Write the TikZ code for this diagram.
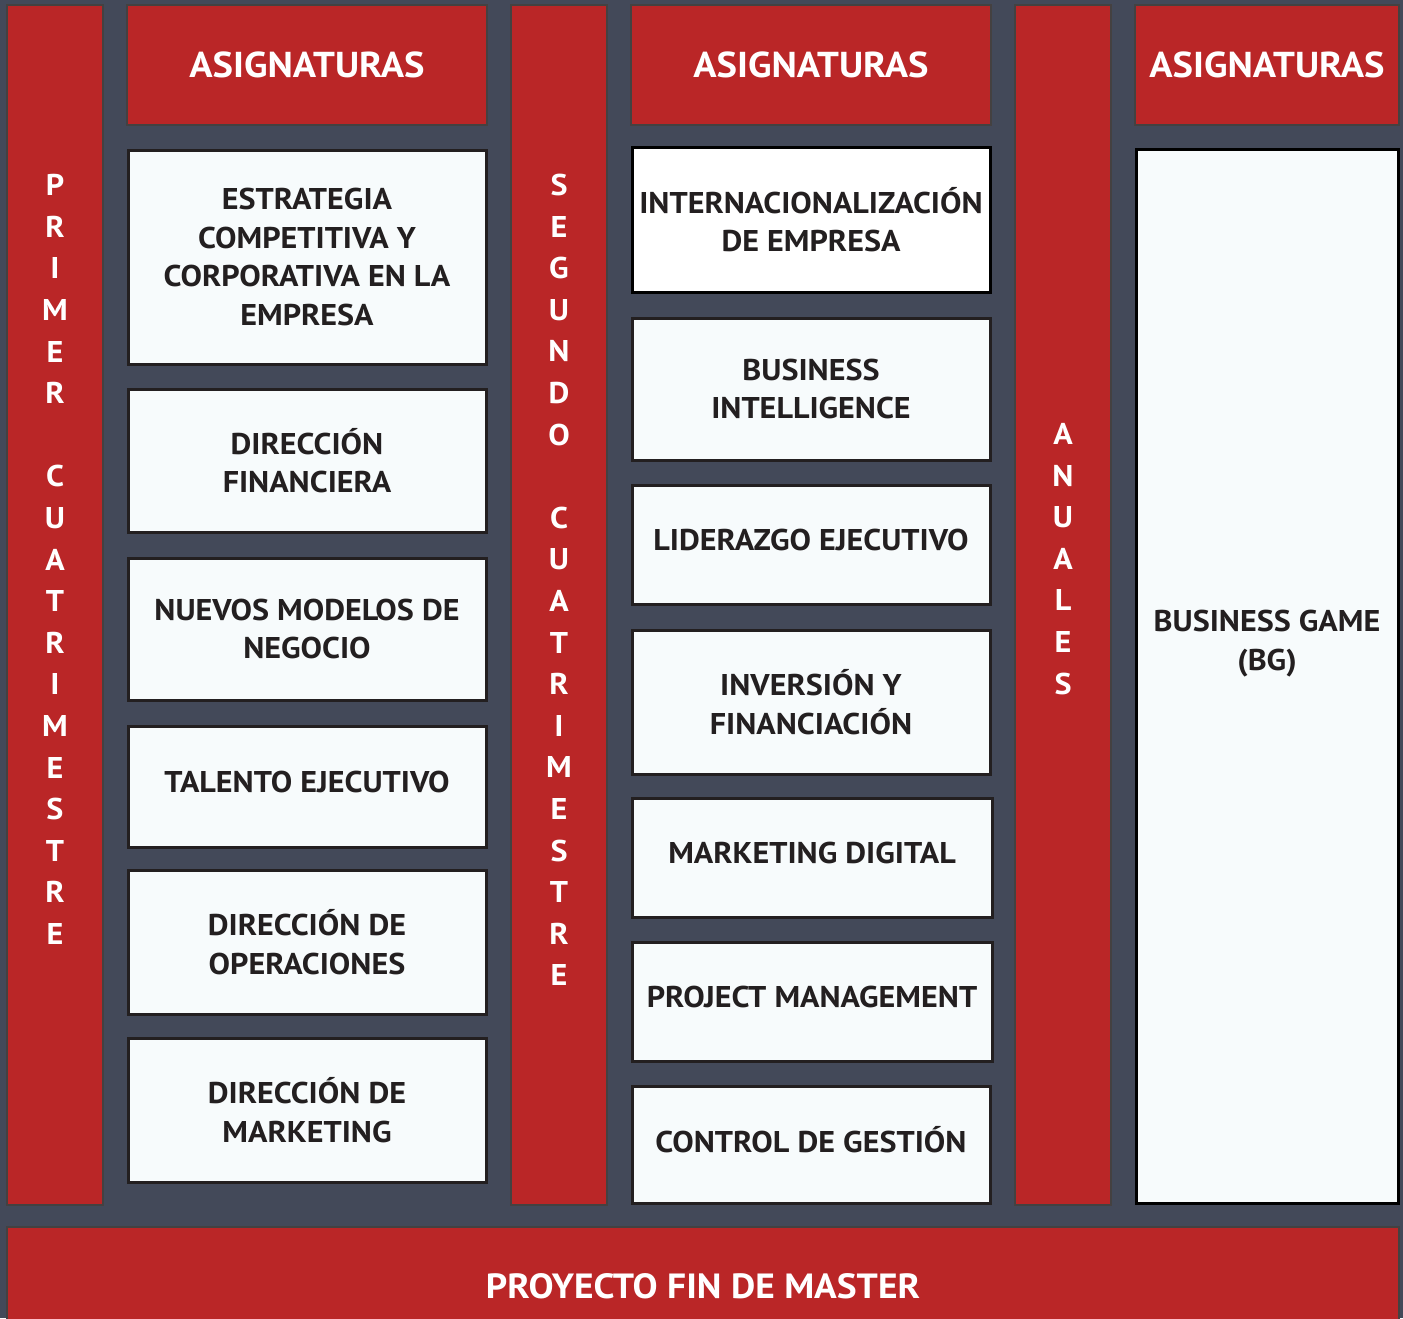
\documentclass[tikz,border=0pt]{standalone}
\usepackage{fontspec}
\setmainfont[FakeStretch=1.07]{PT Sans}
\usepackage{tikz}
\usetikzlibrary{positioning}
\definecolor{slate}{HTML}{434959}
\definecolor{mred}{HTML}{BA2627}
\definecolor{paper}{HTML}{F7FBFC}
\definecolor{ink}{HTML}{231F20}

\begin{document}
\begin{tikzpicture}
[x=0.5pt,y=-0.5pt]
\tikzset{
	column/.style = {draw=ink!85, line width=1.2pt, fill=mred, minimum width=48pt, minimum height=600pt, inner sep=0},
	letters/.style = {text=white, font=\bfseries\fontsize{15}{20.8}\selectfont, align=center, inner sep=0},
	head/.style = {draw=ink!85, line width=1.2pt, fill=mred, text=white, font=\bfseries\fontsize{18}{22}\selectfont, minimum width=180pt, minimum height=60pt, inner sep=0},
	subject/.style = {draw=ink, line width=1.5pt, fill=paper, text=ink, font=\bfseries\fontsize{15}{19.25}\selectfont, align=center, minimum width=179pt, inner sep=0},
	oneline/.style = {text depth=0.5em},
	bar/.style = {draw=ink!85, line width=1.2pt, fill=mred, text=white, font=\bfseries\fontsize{17.5}{22}\selectfont, minimum width=696pt, minimum height=70pt, inner sep=0}
}

\useasboundingbox[fill=slate] (0,0) rectangle (1403,1318);

% semesters
\node (prim) [column] at (55,605) {};
\node (prim-txt) [letters] at (55,559.5) {P\\R\\I\\M\\E\\R\\\mbox{}\\C\\U\\A\\T\\R\\I\\M\\E\\S\\T\\R\\E};
\node (seg) [column] at (559,605) {};
\node (seg-txt) [letters] at (559,580) {S\\E\\G\\U\\N\\D\\O\\\mbox{}\\C\\U\\A\\T\\R\\I\\M\\E\\S\\T\\R\\E};
\node (anu) [column] at (1063,605) {};
\node (anu-txt) [letters] at (1063,559) {A\\N\\U\\A\\L\\E\\S};

% headers
\node (head1) [head] at (307,65) {ASIGNATURAS};
\node (head2) [head] at (811,65) {ASIGNATURAS};
\node (head3) [head, minimum width=132pt] at (1267,65) {ASIGNATURAS};

% first semester
\node (s1-1) [subject, minimum height=107pt] at (307,257) {ESTRATEGIA\\COMPETITIVA Y\\CORPORATIVA EN LA\\EMPRESA};
\node (s1-2) [subject, minimum height=71.5pt] at (307,460.5) {DIRECCIÓN\\FINANCIERA};
\node (s1-3) [subject, minimum height=71pt] at (307,629) {NUEVOS MODELOS DE\\NEGOCIO};
\node (s1-4) [subject, oneline, minimum height=60.5pt] at (307,786.5) {TALENTO EJECUTIVO};
\node (s1-5) [subject, minimum height=72pt] at (307,942) {DIRECCIÓN DE\\OPERACIONES};
\node (s1-6) [subject, minimum height=72pt] at (307,1110) {DIRECCIÓN DE\\MARKETING};

% second semester
\node (s2-1) [subject, fill=white, draw=black, minimum height=72.5pt] at (811,219.5) {INTERNACIONALIZACIÓN\\DE EMPRESA};
\node (s2-2) [subject, minimum height=71pt] at (811,389) {BUSINESS\\INTELLIGENCE};
\node (s2-3) [subject, oneline, minimum height=59.5pt] at (811,544.5) {LIDERAZGO EJECUTIVO};
\node (s2-4) [subject, minimum height=72pt] at (811,702) {INVERSIÓN Y\\FINANCIACIÓN};
\node (s2-5) [subject, oneline, minimum width=180pt, minimum height=59.5pt] at (812,857.5) {MARKETING DIGITAL};
\node (s2-6) [subject, oneline, minimum width=180pt, minimum height=59.5pt] at (812,1001.5) {PROJECT MANAGEMENT};
\node (s2-7) [subject, oneline, minimum height=58.5pt] at (811,1144.5) {CONTROL DE GESTIÓN};

% annual
\node (bg) [subject, draw=black, minimum width=131pt, minimum height=527pt] at (1267,676) {};
\node (bg-txt) [text=ink, font=\bfseries\fontsize{15}{19.25}\selectfont, align=center, inner sep=0] at (1267,643.5) {BUSINESS GAME\\(BG)};

% project
\node (pfm) [bar] at (703,1297) {};
\node (pfm-txt) [text=white, font=\bfseries\fontsize{17.5}{22}\selectfont, inner sep=0] at (703,1286) {PROYECTO FIN DE MASTER};
\end{tikzpicture}
\end{document}
